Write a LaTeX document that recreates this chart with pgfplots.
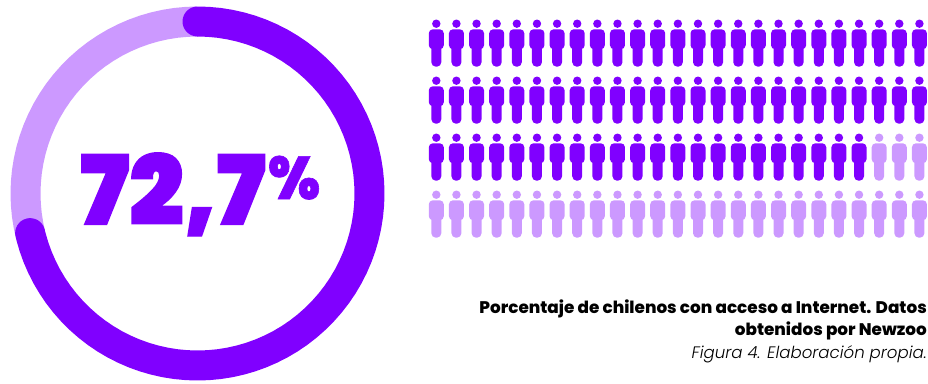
\documentclass[border=0pt]{standalone}
\usepackage{pgfplots}
\usepackage{pgfplotstable}
\pgfplotsset{compat=1.18}
\usepackage{fontspec}
\setmainfont{Poppins}
\newfontfamily\heavy[FakeBold=1.5]{Poppins-Black}
\newfontfamily\heavyp[FakeStretch=0.92,FakeBold=1]{Poppins-Black}
\newfontfamily\semibold{Poppins ExtraBold}
\newfontfamily\lightit{Poppins Light Italic}
\definecolor{violeta}{HTML}{8000FF}
\definecolor{lila}{HTML}{CC99FF}

% One person: the point of the mark is the centre of the head
\pgfdeclareplotmark{persona}{%
  \pgfpathcircle{\pgfpointorigin}{4.2pt}%
  % torso
  \pgfpathmoveto{\pgfpoint{-3.5pt}{-5.6pt}}%
  \pgfpathlineto{\pgfpoint{3.5pt}{-5.6pt}}%
  \pgfpatharc{90}{0}{4pt}%
  \pgfpathlineto{\pgfpoint{7.5pt}{-21.5pt}}%
  \pgfpatharc{0}{-90}{4pt}%
  \pgfpathlineto{\pgfpoint{-3.5pt}{-25.5pt}}%
  \pgfpatharc{-90}{-180}{4pt}%
  \pgfpathlineto{\pgfpoint{-7.5pt}{-9.6pt}}%
  \pgfpatharc{180}{90}{4pt}%
  \pgfpathclose
  % legs
  \pgfpathmoveto{\pgfpoint{-5pt}{-18pt}}%
  \pgfpathlineto{\pgfpoint{5pt}{-18pt}}%
  \pgfpathlineto{\pgfpoint{5pt}{-38.5pt}}%
  \pgfpatharc{0}{-90}{4.5pt}%
  \pgfpathlineto{\pgfpoint{-0.5pt}{-43pt}}%
  \pgfpatharc{-90}{-180}{4.5pt}%
  \pgfpathclose
  \pgfusepathqfill
}

% Ring, in percent of the turn clockwise from the top.
% The rounded end of the dark arc reaches 72.7
\pgfplotstableread[row sep=\\]{
p r\\ 0 172\\ 1 172\\ 2 172\\ 3 172\\ 4 172\\ 5 172\\ 6 172\\ 7 172\\ 8 172\\ 9 172\\ 10 172\\ 11 172\\ 12 172\\ 13 172\\ 14 172\\ 15 172\\ 16 172\\ 17 172\\ 18 172\\ 19 172\\ 20 172\\
21 172\\ 22 172\\ 23 172\\ 24 172\\ 25 172\\ 26 172\\ 27 172\\ 28 172\\ 29 172\\ 30 172\\ 31 172\\ 32 172\\ 33 172\\ 34 172\\ 35 172\\ 36 172\\ 37 172\\ 38 172\\ 39 172\\ 40 172\\
41 172\\ 42 172\\ 43 172\\ 44 172\\ 45 172\\ 46 172\\ 47 172\\ 48 172\\ 49 172\\ 50 172\\ 51 172\\ 52 172\\ 53 172\\ 54 172\\ 55 172\\ 56 172\\ 57 172\\ 58 172\\ 59 172\\ 60 172\\
61 172\\ 62 172\\ 63 172\\ 64 172\\ 65 172\\ 66 172\\ 67 172\\ 68 172\\ 69 172\\ 70 172\\ 71 172\\ 71.3 172\\
}\arcoscuro
\pgfplotstableread[row sep=\\]{
p r\\ 71.3 172\\ 72 172\\ 73 172\\ 74 172\\ 75 172\\ 76 172\\ 77 172\\ 78 172\\ 79 172\\ 80 172\\ 81 172\\ 82 172\\ 83 172\\ 84 172\\ 85 172\\ 86 172\\ 87 172\\ 88 172\\ 89 172\\ 90 172\\
91 172\\ 92 172\\ 93 172\\ 94 172\\ 95 172\\ 96 172\\ 97 172\\ 98 172\\ 99 172\\ 100 172\\
}\arcoclaro

% Pictogram grid: column and row of each person
\pgfplotstableread[row sep=\\]{
c f\\
0 0\\ 1 0\\ 2 0\\ 3 0\\ 4 0\\ 5 0\\ 6 0\\ 7 0\\ 8 0\\ 9 0\\ 10 0\\ 11 0\\ 12 0\\ 13 0\\ 14 0\\ 15 0\\ 16 0\\ 17 0\\ 18 0\\ 19 0\\ 20 0\\ 21 0\\ 22 0\\ 23 0\\ 24 0\\
0 1\\ 1 1\\ 2 1\\ 3 1\\ 4 1\\ 5 1\\ 6 1\\ 7 1\\ 8 1\\ 9 1\\ 10 1\\ 11 1\\ 12 1\\ 13 1\\ 14 1\\ 15 1\\ 16 1\\ 17 1\\ 18 1\\ 19 1\\ 20 1\\ 21 1\\ 22 1\\ 23 1\\ 24 1\\
0 2\\ 1 2\\ 2 2\\ 3 2\\ 4 2\\ 5 2\\ 6 2\\ 7 2\\ 8 2\\ 9 2\\ 10 2\\ 11 2\\ 12 2\\ 13 2\\ 14 2\\ 15 2\\ 16 2\\ 17 2\\ 18 2\\ 19 2\\ 20 2\\ 21 2\\
}\conacceso
\pgfplotstableread[row sep=\\]{
c f\\
22 2\\ 23 2\\ 24 2\\
0 3\\ 1 3\\ 2 3\\ 3 3\\ 4 3\\ 5 3\\ 6 3\\ 7 3\\ 8 3\\ 9 3\\ 10 3\\ 11 3\\ 12 3\\ 13 3\\ 14 3\\ 15 3\\ 16 3\\ 17 3\\ 18 3\\ 19 3\\ 20 3\\ 21 3\\ 22 3\\ 23 3\\ 24 3\\
}\sinacceso

\begin{document}
\begin{tikzpicture}
\path[use as bounding box] (0,0) rectangle (928pt,383pt);
\begin{axis}[
  at={(0,0)}, anchor=south west,
  scale only axis, width=928pt, height=383pt,
  xmin=0, xmax=928, ymin=0, ymax=383, y dir=reverse,
  hide axis, clip=false,
]
  \addplot[lila, line width=30pt, line join=round, no marks]
    table[x expr={197.5+\thisrow{r}*sin(3.6*\thisrow{p})}, y expr={193.5-\thisrow{r}*cos(3.6*\thisrow{p})}] {\arcoclaro};
  \addplot[violeta, line width=30pt, line cap=round, line join=round, no marks]
    table[x expr={197.5+\thisrow{r}*sin(3.6*\thisrow{p})}, y expr={193.5-\thisrow{r}*cos(3.6*\thisrow{p})}] {\arcoscuro};

  \addplot[only marks, mark=persona, violeta]
    table[x expr={436.3+20.13*\thisrow{c}}, y expr={23.7+57*\thisrow{f}}] {\conacceso};
  \addplot[only marks, mark=persona, lila]
    table[x expr={436.3+20.13*\thisrow{c}}, y expr={23.7+57*\thisrow{f}}] {\sinacceso};

  \node[anchor=base west, inner sep=0pt, violeta, font=\heavy\fontsize{96}{96}\selectfont] at (axis cs:80,224.5) {72,7};
  \node[anchor=base west, inner sep=0pt, violeta, font=\heavyp\fontsize{60}{60}\selectfont] at (axis cs:268,199) {\%};

  \node[anchor=base east, inner sep=0pt, font=\semibold\fontsize{16.8}{16.8}\selectfont] at (axis cs:927,313) {Porcentaje de chilenos con acceso a Internet. Datos};
  \node[anchor=base east, inner sep=0pt, font=\semibold\fontsize{16.8}{16.8}\selectfont] at (axis cs:927,335.5) {obtenidos por Newzoo};
  \node[anchor=base east, inner sep=0pt, font=\lightit\fontsize{16.6}{16.6}\selectfont] at (axis cs:927,358) {Figura 4. Elaboración propia.};
\end{axis}
\end{tikzpicture}
\end{document}
